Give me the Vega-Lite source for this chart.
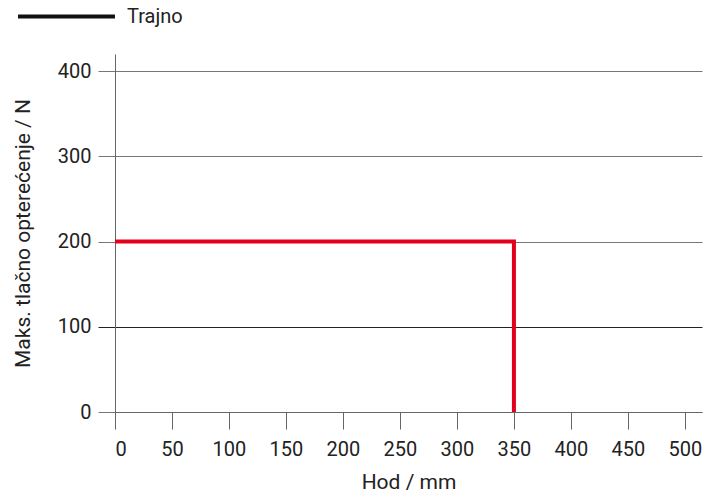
{
  "$schema": "https://vega.github.io/schema/vega-lite/v6.json",
  "width": 587,
  "height": 358,
  "autosize": {"type": "none"},
  "padding": {"left": 115, "top": 54, "right": 4, "bottom": 87},
  "config": {
    "font": "Roboto",
    "view": {"stroke": null},
    "axis": {
      "labelFont": "Roboto",
      "titleFont": "Roboto",
      "labelFontSize": 20,
      "titleFontSize": 21,
      "labelColor": "#222",
      "titleColor": "#222",
      "titleFontWeight": "normal",
      "domainColor": "#666",
      "tickColor": "#666",
      "tickSize": 17,
      "labelPadding": 7
    }
  },
  "data": {
    "values": [
      {"hod": 0, "f": 200, "s": "Trajno"},
      {"hod": 350, "f": 200, "s": "Trajno"},
      {"hod": 350, "f": 0, "s": "Trajno"}
    ]
  },
  "layer": [
    {
      "mark": {"type": "line", "strokeWidth": 4, "strokeCap": "butt", "strokeJoin": "miter", "clip": false, "stroke": "#e3001b"},
      "encoding": {
        "x": {
          "field": "hod",
          "type": "quantitative",
          "scale": {"domain": [0, 515], "nice": false},
          "axis": {"values": [0, 50, 100, 150, 200, 250, 300, 350, 400, 450, 500], "grid": false, "title": "Hod / mm", "titlePadding": 12, "labelPadding": 10}
        },
        "y": {
          "field": "f",
          "type": "quantitative",
          "scale": {"domain": [0, 420], "nice": false},
          "axis": {
            "values": [0, 100, 200, 300, 400],
            "grid": true,
            "gridColor": {"condition": {"test": "datum.value === 100", "value": "#222"}, "value": "#777"},
            "tickColor": {"condition": {"test": "datum.value === 100", "value": "#222"}, "value": "#777"},
            "title": "Maks. tlačno opterećenje / N",
            "titlePadding": 24
          }
        }
      }
    },
    {
      "mark": {"type": "line", "strokeWidth": 4, "opacity": 0},
      "encoding": {
        "x": {"field": "hod", "type": "quantitative"},
        "y": {"field": "f", "type": "quantitative"},
        "color": {
          "field": "s",
          "type": "nominal",
          "scale": {"range": ["#111"]},
          "legend": {
            "title": null,
            "orient": "none",
            "legendX": -99,
            "legendY": -88,
            "symbolType": "stroke",
            "symbolSize": 9400,
            "symbolStrokeWidth": 4,
            "symbolOpacity": 1,
            "labelFont": "Roboto",
            "labelFontSize": 20,
            "labelColor": "#222",
            "labelOffset": 10
          }
        }
      }
    }
  ]
}
